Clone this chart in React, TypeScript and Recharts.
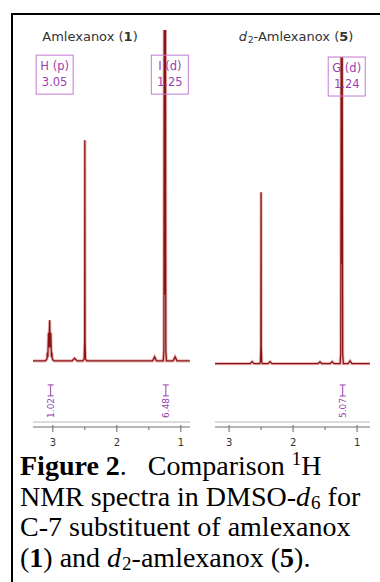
import { LineChart, Line, XAxis, YAxis, ReferenceDot, ReferenceLine } from "recharts";

// amlexanox (1): chemical shift (ppm) and intensity
const amlexPpm = [
  3.31, 3.12, 3.1, 3.09, 3.085, 3.078, 3.068, 3.06, 3.05, 3.04, 3.032, 3.022, 3.015, 3.01, 3.0, 2.98,
  2.7, 2.66, 2.62, 2.53, 2.51, 2.503, 2.5, 2.497, 2.49, 2.47,
  1.44, 1.41, 1.38, 1.275, 1.265, 1.258, 1.25, 1.242, 1.235, 1.225, 1.12, 1.09, 1.06, 0.86,
];
const amlexInt = [
  0, 0, 0.3, 0.8, 2.5, 1.2, 8.5, 4, 12.3, 4, 8.5, 1.2, 2.5, 0.8, 0.3, 0,
  0, 0.8, 0, 0, 0.6, 6, 66.7, 6, 0.6, 0,
  0, 1.2, 0, 0, 3, 140, 20, 140, 3, 0, 0, 1.2, 0, 0,
];

// d2-amlexanox (5): right trace
const d2Ppm = [
  3.22, 2.67, 2.64, 2.61, 2.52, 2.51, 2.503, 2.5, 2.497, 2.49, 2.48, 2.39, 2.36, 2.33,
  1.61, 1.58, 1.55, 1.42, 1.39, 1.36, 1.265, 1.255, 1.248, 1.24, 1.232, 1.225, 1.215,
  1.14, 1.11, 1.08, 0.8,
];
const d2Int = [
  0, 0, 0.6, 0, 0, 0.5, 5, 51.4, 5, 0.5, 0, 0, 0.6, 0,
  0, 0.5, 0, 0, 0.6, 0, 0, 3, 91.9, 30, 91.9, 3, 0,
  0, 0.8, 0, 0,
];

const ppmTicks = [3, 2.5, 2, 1.5, 1];

// peak annotation boxes
const amlexPeaks = [
  { ppm: 3.05, y: 92.4, name: "H (p)", shift: "3.05" },
  { ppm: 1.25, y: 92.4, name: "I (d)", shift: "1.25" },
];
const d2Peaks = [{ ppm: 1.24, y: 91.9, name: "G (d)", shift: "1.24" }];

// integrals under the traces
const amlexIntegrals = [
  { ppm: 3.05, value: "1.02" },
  { ppm: 1.25, value: "6.48" },
];
const d2Integrals = [{ ppm: 1.24, value: "5.07" }];

const zip = (ppm: number[], ints: number[]) => ppm.map((p, k) => ({ ppm: p, i: ints[k] }));
const amlexData = zip(amlexPpm, amlexInt);
const d2Data = zip(d2Ppm, d2Int);

const PURPLE = "#9a3fae";
const SANS = "'DejaVu Sans', Verdana, sans-serif";

function PpmTick(props: any) {
  const { x, y, payload } = props;
  const v = payload.value;
  const major = Number.isInteger(v);
  return (
    <g>
      <line x1={x} x2={x} y1={y - (major ? 2 : 0)} y2={y + (major ? 5 : 3)} stroke="#666" strokeWidth={1} />
      {major && (
        <text x={x} y={y + 19} textAnchor="middle" fontSize={10} fontFamily={SANS} fill="#333">
          {v}
        </text>
      )}
    </g>
  );
}

function PeakBox({ cx, cy, name, shift }: any) {
  const mx = cx + 5;
  return (
    <g>
      <rect x={mx - 18.5} y={cy} width={37} height={39} fill="none" stroke="#c47ad4" strokeWidth={1} />
      <text x={mx} y={cy + 15} textAnchor="middle" fontSize={11.5} fontFamily={SANS} fill={PURPLE}>
        {name}
      </text>
      <text x={mx} y={cy + 31} textAnchor="middle" fontSize={11.5} fontFamily={SANS} fill={PURPLE}>
        {shift}
      </text>
    </g>
  );
}

function IntegralMark({ cx, cy, value }: any) {
  return (
    <g transform={`translate(${cx + 1},${cy}) rotate(-90)`}>
      <text x={-1} y={0} textAnchor="end" dominantBaseline="central" fontSize={9} fontFamily={SANS} fill={PURPLE}>
        {value}
      </text>
      <g stroke={PURPLE} strokeWidth={1}>
        <line x1={1} x2={12} y1={0} y2={0} />
        <line x1={1} x2={1} y1={-3} y2={3} />
        <line x1={12} x2={12} y1={-3} y2={3} />
      </g>
    </g>
  );
}

function Spectrum({ data, left, width, xDomain, yDomain, guideY, intY, peaks, integrals }: any) {
  return (
    <div style={{ position: "absolute", left, top: 30 }}>
      <LineChart width={width} height={422} data={data} margin={{ top: 0, right: 0, bottom: 0, left: 0 }}>
        <XAxis
          type="number"
          dataKey="ppm"
          domain={xDomain}
          reversed
          allowDataOverflow
          ticks={ppmTicks}
          interval={0}
          tickSize={0}
          tickMargin={0}
          tickLine={false}
          axisLine={{ stroke: "#707070", strokeWidth: 1.2 }}
          tick={(p: any) => <PpmTick {...p} />}
          height={25}
        />
        <YAxis type="number" hide domain={yDomain} allowDataOverflow />
        <ReferenceLine y={guideY} stroke="#cfcfcf" strokeWidth={1.5} />
        {peaks.map((a: any) => (
          <ReferenceDot
            key={a.name}
            x={a.ppm}
            y={a.y}
            r={1}
            shape={(p: any) => <PeakBox cx={p.cx} cy={p.cy} name={a.name} shift={a.shift} />}
          />
        ))}
        {integrals.map((a: any) => (
          <ReferenceDot
            key={a.value}
            x={a.ppm}
            y={intY}
            r={1}
            shape={(p: any) => <IntegralMark cx={p.cx} cy={p.cy} value={a.value} />}
          />
        ))}
        <Line type="linear" dataKey="i" stroke="#ebbcbc" strokeWidth={3.2} dot={false} isAnimationActive={false} />
        <Line type="linear" dataKey="i" stroke="#8a1414" strokeWidth={1.3} dot={false} isAnimationActive={false} />
      </LineChart>
    </div>
  );
}

const sub = { fontSize: "0.68em", position: "relative" as const, top: "0.2em", lineHeight: 0, marginLeft: 1 };
const sup = { fontSize: "0.68em", position: "relative" as const, top: "-0.55em", lineHeight: 0 };

export default function App() {
  return (
    <div
      style={{
        position: "fixed",
        left: 0,
        top: 0,
        width: 380,
        height: 582,
        background: "#fff",
        overflow: "hidden",
      }}
    >
      <div
        style={{
          position: "absolute",
          left: 11,
          top: 13,
          width: 400,
          height: 600,
          borderLeft: "2px solid #000",
          borderTop: "2px solid #000",
        }}
      />
      <div
        style={{
          position: "absolute",
          left: 30,
          top: 30,
          width: 120,
          textAlign: "center",
          fontFamily: SANS,
          fontSize: 13,
          lineHeight: "14px",
          color: "#333",
        }}
      >
        Amlexanox (<b>1</b>)
      </div>
      <div
        style={{
          position: "absolute",
          left: 226,
          top: 30,
          width: 140,
          textAlign: "center",
          fontFamily: SANS,
          fontSize: 13,
          lineHeight: "14px",
          color: "#333",
        }}
      >
        <i>d</i>
        <span style={sub}>2</span>-Amlexanox (<b>5</b>)
      </div>

      <Spectrum
        data={amlexData}
        left={33}
        width={157}
        xDomain={[0.857, 3.31]}
        yDomain={[-20, 100]}
        guideY={-18.5}
        intY={-10.9}
        peaks={amlexPeaks}
        integrals={amlexIntegrals}
      />
      <Spectrum
        data={d2Data}
        left={215}
        width={155}
        xDomain={[0.798, 3.22]}
        yDomain={[-19, 100]}
        guideY={-17.5}
        intY={-10}
        peaks={d2Peaks}
        integrals={d2Integrals}
      />

      <div
        style={{
          position: "absolute",
          left: 20,
          top: 451,
          width: 370,
          whiteSpace: "nowrap",
          fontFamily: "'Liberation Serif', 'Times New Roman', serif",
          fontSize: 28,
          lineHeight: "30.5px",
          color: "#000",
        }}
      >
        <b>Figure 2</b>.&nbsp;&nbsp; Comparison <span style={sup}>1</span>H
        <br />
        NMR spectra in DMSO-<i>d</i>
        <span style={sub}>6</span> for
        <br />
        C-7 substituent of amlexanox
        <br />(<b>1</b>) and <i>d</i>
        <span style={sub}>2</span>-amlexanox (<b>5</b>).
      </div>
    </div>
  );
}
